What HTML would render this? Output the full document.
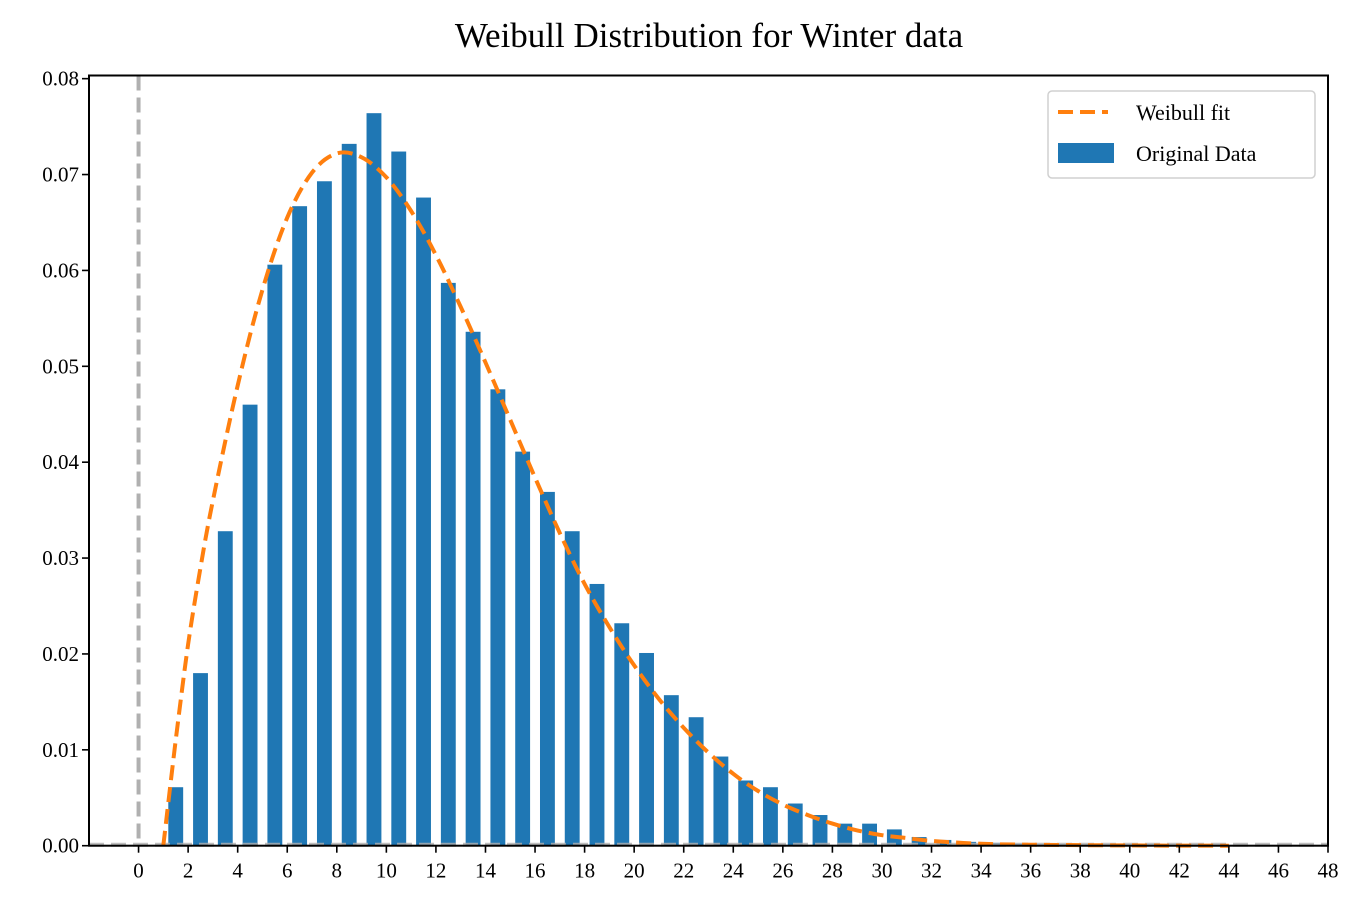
<!DOCTYPE html>
<html><head><meta charset="utf-8"><style>
html,body{margin:0;padding:0;background:#fff;}
svg{display:block;font-family:"Liberation Serif","DejaVu Serif",serif;}
</style></head><body>
<svg id="chart" width="1363" height="912" xmlns="http://www.w3.org/2000/svg">
<text x="709" y="47" text-anchor="middle" font-size="35">Weibull Distribution for Winter data</text>
<g id="plot"></g>
</svg>
<script>
const binStarts=[1,2,3,4,5,6,7,8,9,10,11,12,13,14,15,16,17,18,19,20,21,22,23,24,25,26,27,28,29,30,31,32,33,34,35,36,37,38,39,40];
const binValues=[0.0061,0.0180,0.0328,0.0460,0.0606,0.0667,0.0693,0.0732,0.0764,0.0724,0.0676,0.0587,0.0536,0.0476,0.0411,0.0369,0.0328,0.0273,0.0232,0.0201,0.0157,0.0134,0.0093,0.0068,0.0061,0.0044,0.0032,0.0023,0.0023,0.0017,0.0009,0.0006,0.0004,0.0003,0.0002,0.0001,0.0001,0.0001,0.0001,0.0001];
const fitX=[1,1.5,2,2.5,3,4,5,6,7,8,9,10,11,12,13,14,15,16,17,18,19,20,21,22,23,24,25,26,27,28,29,30,31,32,34,36,40,44];
const fitY=[0,0.011,0.021,0.029,0.036,0.048,0.058,0.0655,0.0702,0.0722,0.0718,0.0697,0.0662,0.0616,0.0562,0.0504,0.0444,0.0384,0.0326,0.0273,0.0228,0.0188,0.0153,0.0123,0.0097,0.0075,0.0057,0.0043,0.0032,0.0023,0.0016,0.0011,0.0008,0.0005,0.0002,0.0001,0.00003,0];
const xTicks=[0,2,4,6,8,10,12,14,16,18,20,22,24,26,28,30,32,34,36,38,40,42,44,46,48];
const yTicks=[0,0.01,0.02,0.03,0.04,0.05,0.06,0.07,0.08];

const L=89,R=1328,T=75.5,B=845.7,XMIN=-2,XMAX=48,YMAX=0.08033;
const sx=v=>L+(v-XMIN)/(XMAX-XMIN)*(R-L);
const sy=v=>B-v/YMAX*(B-T);
const NS="http://www.w3.org/2000/svg";
const g=document.getElementById('plot');
function mk(tag,attrs){const e=document.createElementNS(NS,tag);for(const k in attrs)e.setAttribute(k,attrs[k]);g.appendChild(e);return e;}

binStarts.forEach((s,i)=>{
  const x0=sx(s+0.2),x1=sx(s+0.8),y=sy(binValues[i]);
  const r=mk('rect',{x:x0,y:y,width:x1-x0,height:B-y,fill:'#1f77b4'});
  
  
});
const vl=mk('line',{x1:sx(0),x2:sx(0),y1:T,y2:B,stroke:'#b0b0b0','stroke-width':4,'stroke-dasharray':'15 7'});


const hl=mk('line',{x1:L,x2:R,y1:B-1,y2:B-1,stroke:'#b0b0b0','stroke-width':4,'stroke-dasharray':'15 7','opacity':0.8});


// smooth path (Catmull-Rom -> Bezier)
const P=fitX.map((x,i)=>[sx(x),sy(fitY[i])]);
let d='M'+P[0][0].toFixed(1)+','+P[0][1].toFixed(1);
for(let i=0;i<P.length-1;i++){
  const p0=P[Math.max(0,i-1)],p1=P[i],p2=P[i+1],p3=P[Math.min(P.length-1,i+2)];
  const c1=[p1[0]+(p2[0]-p0[0])/6,p1[1]+(p2[1]-p0[1])/6];
  const c2=[p2[0]-(p3[0]-p1[0])/6,p2[1]-(p3[1]-p1[1])/6];
  d+=' C'+c1[0].toFixed(1)+','+c1[1].toFixed(1)+' '+c2[0].toFixed(1)+','+c2[1].toFixed(1)+' '+p2[0].toFixed(1)+','+p2[1].toFixed(1);
}
const fl=mk('path',{d:d,fill:'none',stroke:'#ff7f0e','stroke-width':4,'stroke-dasharray':'15 7'});



const ax=mk('rect',{x:L,y:T,width:R-L,height:B-T,fill:'none',stroke:'#000','stroke-width':2});



xTicks.forEach(t=>{
  const x=sx(t);
  const tk=mk('line',{x1:x,x2:x,y1:B,y2:B+7,stroke:'#000','stroke-width':1.6});
  
  
  const lb=mk('text',{x:x,y:B+32,'text-anchor':'middle','font-size':21});
  lb.textContent=t;
  
  
});
yTicks.forEach(t=>{
  const y=sy(t);
  const tk=mk('line',{x1:L-7,x2:L,y1:y,y2:y,stroke:'#000','stroke-width':1.6});
  
  
  const lb=mk('text',{x:L-10,y:y+7,'text-anchor':'end','font-size':21});
  lb.textContent=t.toFixed(2);
  
  
});

const lg=mk('rect',{x:1048,y:91,width:267,height:87,rx:4,fill:'#fff',stroke:'#d0d0d0','stroke-width':1.5});


const l1=mk('line',{x1:1058,x2:1108,y1:112,y2:112,stroke:'#ff7f0e','stroke-width':4,'stroke-dasharray':'15 7'});


const t1=mk('text',{x:1136,y:120,'font-size':22});
t1.textContent='Weibull fit';


const r2=mk('rect',{x:1058,y:143,width:56,height:20,fill:'#1f77b4'});


const t2=mk('text',{x:1136,y:161,'font-size':22});
t2.textContent='Original Data';


</script>
</body></html>
